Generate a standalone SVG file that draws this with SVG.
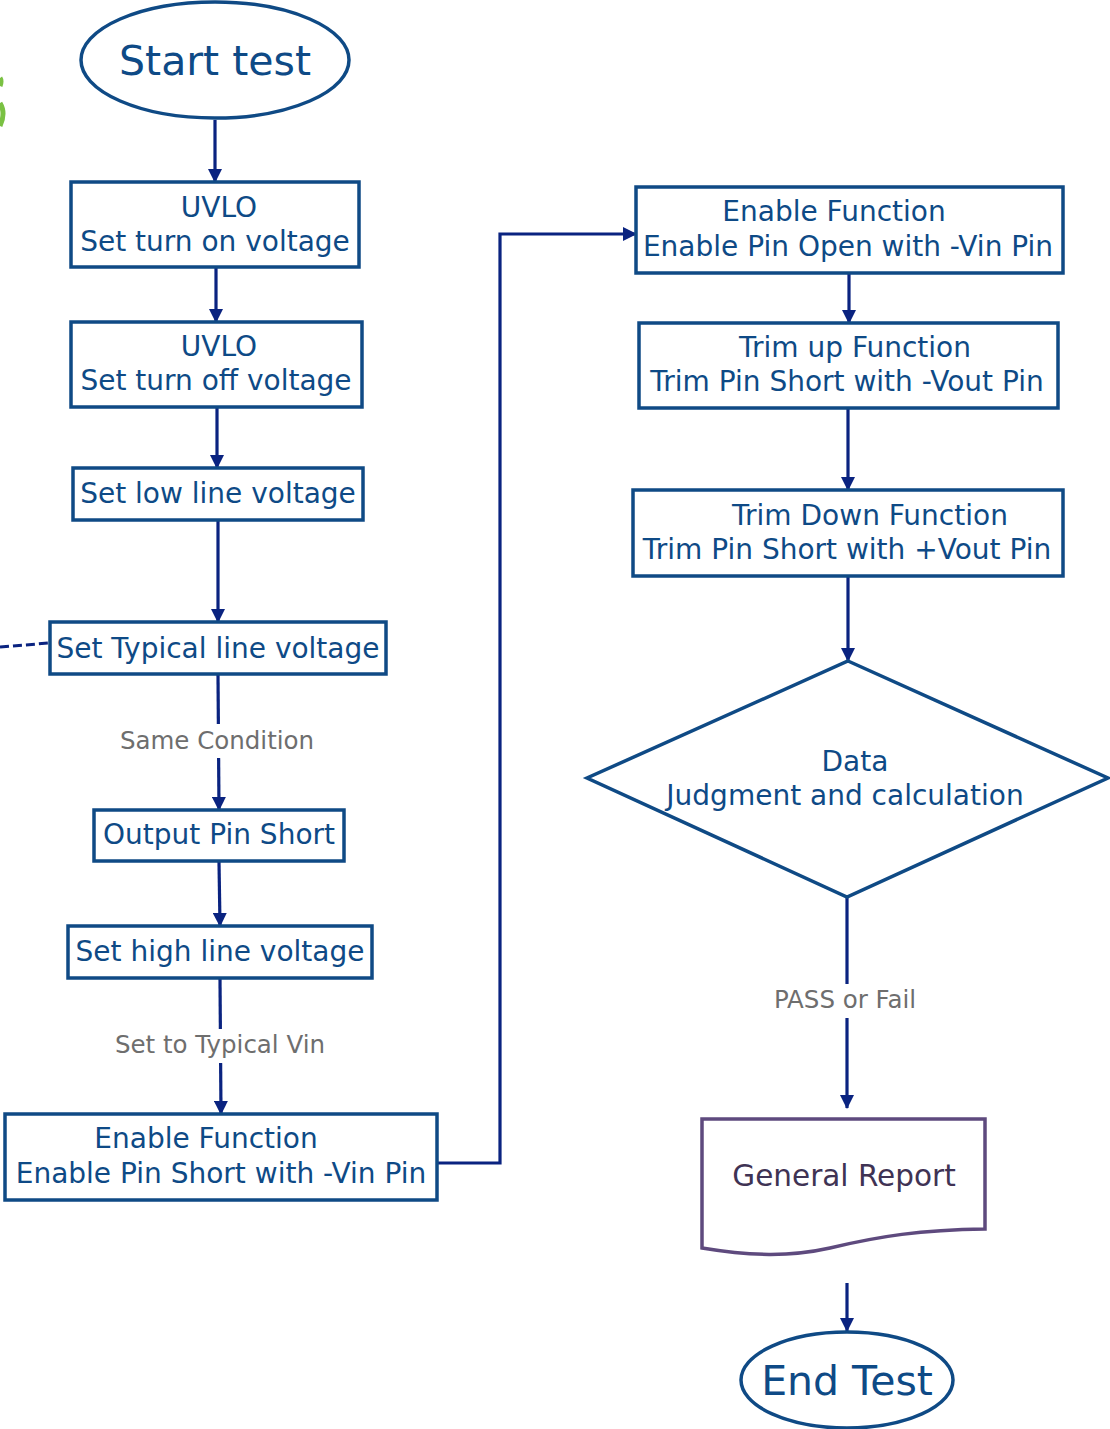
<svg xmlns="http://www.w3.org/2000/svg" width="1110" height="1429" viewBox="0 0 1110 1429">
<style>
.box{fill:#fff;stroke:#0f4a85;stroke-width:3.5}
.t{font-family:"DejaVu Sans",Verdana,sans-serif;font-size:28px;fill:#0e4a86;text-anchor:middle}
.big{font-size:41px}
.lbl{font-family:"DejaVu Sans",Verdana,sans-serif;font-size:24.5px;fill:#6e6e6e;text-anchor:middle}
.c{fill:none;stroke:#0a2380;stroke-width:3.2}
</style>
<defs>
<marker id="ah" viewBox="0 0 14 14" refX="13" refY="7" markerWidth="14" markerHeight="14" markerUnits="userSpaceOnUse" orient="auto">
<path d="M0,0 L14,7 L0,14 Z" fill="#0a2380"/>
</marker>
</defs>
<rect width="1110" height="1429" fill="#fff"/>
<path d="M0,78 Q2,81 0,86 M0,103 Q6,113 0,126" fill="none" stroke="#7ac143" stroke-width="5"/>

<g id="connectors">
<line class="c" x1="215" y1="120" x2="215" y2="182" marker-end="url(#ah)"/>
<line class="c" x1="216" y1="268" x2="216" y2="322" marker-end="url(#ah)"/>
<line class="c" x1="217" y1="408" x2="217" y2="468" marker-end="url(#ah)"/>
<line class="c" x1="218" y1="521" x2="218" y2="622" marker-end="url(#ah)"/>
<line class="c" x1="218" y1="675" x2="219" y2="810" marker-end="url(#ah)"/>
<line class="c" x1="219" y1="862" x2="220" y2="926" marker-end="url(#ah)"/>
<line class="c" x1="220" y1="979" x2="221" y2="1114" marker-end="url(#ah)"/>
<path class="c" d="M437,1163 L500,1163 L500,234 L636,234" marker-end="url(#ah)"/>
<line class="c" x1="849" y1="274" x2="849" y2="323" marker-end="url(#ah)"/>
<line class="c" x1="848" y1="409" x2="848" y2="490" marker-end="url(#ah)"/>
<line class="c" x1="848" y1="577" x2="848" y2="661" marker-end="url(#ah)"/>
<line class="c" x1="847" y1="897" x2="847" y2="1108" marker-end="url(#ah)"/>
<line class="c" x1="847" y1="1283" x2="847" y2="1331" marker-end="url(#ah)"/>
<path d="M0,647 L49,643" fill="none" stroke="#0a2380" stroke-width="3" stroke-dasharray="9,4"/>
<rect x="120" y="724" width="195" height="34" fill="#fff"/>
<text class="lbl" x="217" y="749">Same Condition</text>
<rect x="112" y="1029" width="215" height="34" fill="#fff"/>
<text class="lbl" x="220" y="1053">Set to Typical Vin</text>
<rect x="770" y="984" width="150" height="34" fill="#fff"/>
<text class="lbl" x="845" y="1008">PASS or Fail</text>
</g>

<g id="start">
<ellipse class="box" cx="215" cy="60" rx="134" ry="58"/>
<text class="t big" x="215" y="75">Start test</text>
</g>
<g id="uvlo-on">
<rect class="box" x="71" y="182" width="288" height="85"/>
<text class="t" x="219" y="217">UVLO</text>
<text class="t" x="215" y="251">Set turn on voltage</text>
</g>
<g id="uvlo-off">
<rect class="box" x="71" y="322" width="291" height="85"/>
<text class="t" x="219" y="356">UVLO</text>
<text class="t" x="216" y="390">Set turn off voltage</text>
</g>
<g id="low-line">
<rect class="box" x="73" y="468" width="290" height="52"/>
<text class="t" x="218" y="503">Set low line voltage</text>
</g>
<g id="typical-line">
<rect class="box" x="50" y="622" width="336" height="52"/>
<text class="t" x="218" y="658">Set Typical line voltage</text>
</g>
<g id="output-short">
<rect class="box" x="94" y="810" width="250" height="51"/>
<text class="t" x="219" y="844">Output Pin Short</text>
</g>
<g id="high-line">
<rect class="box" x="68" y="926" width="304" height="52"/>
<text class="t" x="220" y="961">Set high line voltage</text>
</g>
<g id="enable-short">
<rect class="box" x="5" y="1114" width="432" height="86"/>
<text class="t" x="206" y="1148">Enable Function</text>
<text class="t" x="221" y="1183">Enable Pin Short with -Vin Pin</text>
</g>
<g id="enable-open">
<rect class="box" x="636" y="187" width="427" height="86"/>
<text class="t" x="834" y="221">Enable Function</text>
<text class="t" x="848" y="256">Enable Pin Open with -Vin Pin</text>
</g>
<g id="trim-up">
<rect class="box" x="639" y="323" width="419" height="85"/>
<text class="t" x="855" y="357">Trim up Function</text>
<text class="t" x="847" y="391">Trim Pin Short with -Vout Pin</text>
</g>
<g id="trim-down">
<rect class="box" x="633" y="490" width="430" height="86"/>
<text class="t" x="870" y="525">Trim Down Function</text>
<text class="t" x="847" y="559">Trim Pin Short with +Vout Pin</text>
</g>
<g id="judgment">
<polygon class="box" points="848,661 1108,778 847,897 587,778"/>
<text class="t" x="855" y="771">Data</text>
<text class="t" x="845" y="805">Judgment and calculation</text>
</g>
<g id="report">
<path d="M702,1119 L985,1119 L985,1229 C920,1230 880,1236 830,1248 C790,1257 750,1256 702,1248 Z" fill="#fff" stroke="#5e4a7e" stroke-width="3.5"/>
<text class="t" x="844" y="1186" style="fill:#3f3354;font-size:29.5px">General Report</text>
</g>
<g id="end">
<ellipse class="box" cx="847" cy="1380" rx="106" ry="48"/>
<text class="t big" x="847" y="1395">End Test</text>
</g>
</svg>
